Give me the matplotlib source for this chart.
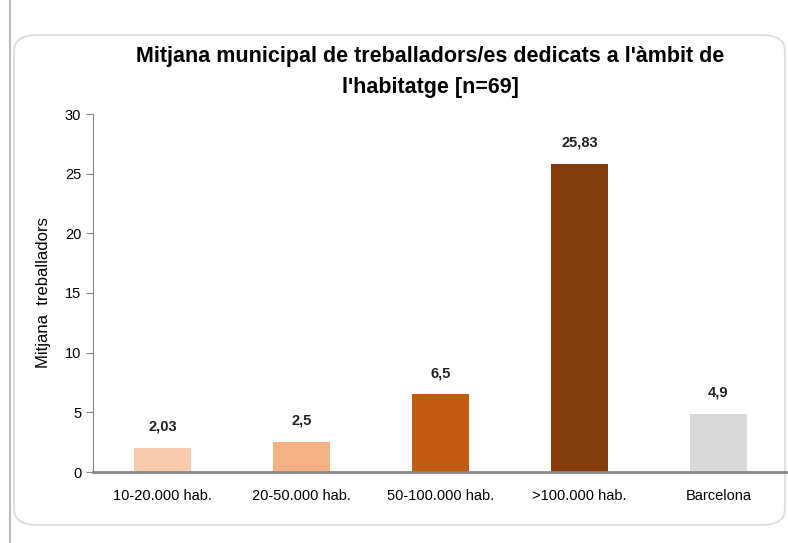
import matplotlib.pyplot as plt
from matplotlib.patches import FancyBboxPatch
from matplotlib.lines import Line2D

categories = ['10-20.000 hab.', '20-50.000 hab.', '50-100.000 hab.', '>100.000 hab.', 'Barcelona']
values = [2.03, 2.5, 6.5, 25.83, 4.9]
value_labels = ['2,03', '2,5', '6,5', '25,83', '4,9']
colors = ['#F8CBAD', '#F4B183', '#C55A11', '#843C0C', '#D9D9D9']

plt.rcParams['font.family'] = ['Liberation Sans', 'DejaVu Sans']

fig = plt.figure(figsize=(7.88, 5.43), dpi=100)

# rounded frame and left rule
frame = FancyBboxPatch((14 / 788, 18 / 543), 771 / 788, 490 / 543,
                       boxstyle='round,pad=0,rounding_size=0.03',
                       transform=fig.transFigure, facecolor='white',
                       edgecolor='#E0E0E0', linewidth=1.5, zorder=-10)
fig.patches.append(frame)
fig.lines.append(Line2D([10 / 788, 10 / 788], [0, 1], transform=fig.transFigure,
                        color='#BBBBBB', linewidth=1.5))

ax = fig.add_axes([93 / 788, 71 / 543, 695 / 788, 358 / 543])
ax.set_facecolor('none')
x = range(len(categories))
ax.bar(x, values, width=0.41, color=colors)
for i, v in enumerate(values):
    ax.text(i, v + 1.2, value_labels[i], ha='center', va='bottom', fontsize=10.5, fontweight='bold', color='#222222')

ax.set_xlim(-0.5, len(categories) - 0.5)
ax.set_ylim(0, 30)
ax.set_yticks(range(0, 31, 5))
ax.set_xticks(list(x))
ax.set_xticklabels(categories, fontsize=10.5)
ax.tick_params(axis='x', length=0, pad=12)
ax.tick_params(axis='y', labelsize=10.5, length=5, color='#888888', direction='out')
ax.spines['top'].set_visible(False)
ax.spines['right'].set_visible(False)
ax.spines['left'].set_color('#888888')
ax.spines['bottom'].set_color('#888888')
ax.spines['bottom'].set_linewidth(2)
ax.set_ylabel('Mitjana  treballadors', fontsize=12, labelpad=10)

fig.text(430 / 788, 1 - 72 / 543, "Mitjana municipal de treballadors/es dedicats a l'àmbit de\nl'habitatge [n=69]",
         ha='center', va='center', fontsize=15.5, fontweight='bold', linespacing=1.65)

fig.savefig('out.png', dpi=100)
